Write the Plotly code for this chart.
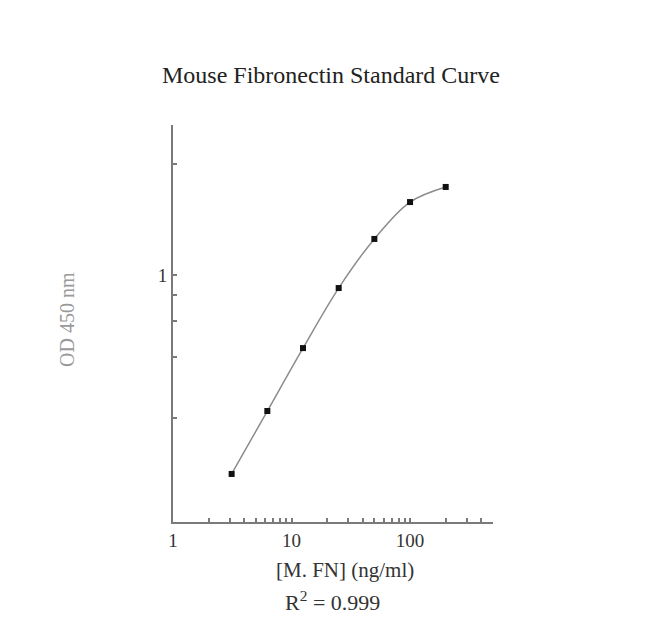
import plotly.graph_objects as go

# Data
conc = [3.125, 6.25, 12.5, 25, 50, 100, 200]          # [M. FN] (ng/ml)
od450 = [0.107, 0.217, 0.44, 0.864, 1.50, 2.27, 2.69]  # OD 450 nm

x_tickvals = [1, 2, 3, 4, 5, 6, 7, 8, 9, 10, 20, 30, 40, 50, 60, 70, 80, 90, 100, 200, 300, 400, 500]
x_ticktext = ["1", "", "", "", "", "", "", "", "", "10", "", "", "", "", "", "", "", "", "100", "", "", "", ""]
y_tickvals = [0.2, 0.4, 0.6, 0.8, 1, 3.5]
y_ticktext = ["", "", "", "", "1", ""]

title_text = "Mouse Fibronectin Standard Curve"
x_label = "[M. FN] (ng/ml)"
y_label = "OD 450 nm"
r2_text = "R<sup>2</sup> = 0.999"

FONT = "Liberation Serif, Times New Roman, serif"
AXIS_COLOR = "#7a7a7a"
OFF = 8  # page body offset

L, T, PW, PH = 173 - OFF, 125 - OFF, 320, 397

fig = go.Figure()
fig.add_trace(go.Scatter(
    x=conc, y=od450, mode="lines+markers",
    line=dict(color="#8c8c8c", width=1.5, shape="spline", smoothing=1.0),
    marker=dict(symbol="square", size=6, color="#111111"),
    showlegend=False,
))

fig.update_layout(
    width=650, height=643,
    margin=dict(l=L, r=650 - L - PW, t=T, b=643 - T - PH),
    paper_bgcolor="white", plot_bgcolor="white",
    font=dict(family=FONT, size=19, color="#333333"),
    title=dict(text=title_text, x=(331 - OFF) / 650, xanchor="center",
               y=1 - (75 - OFF) / 643, yanchor="middle",
               font=dict(family=FONT, size=24, color="#222222")),
)

fig.update_xaxes(
    type="log", range=[0, 2.70],
    showgrid=False, zeroline=False,
    showline=True, linecolor=AXIS_COLOR, linewidth=2,
    ticks="inside", ticklen=4, tickwidth=1.5, tickcolor=AXIS_COLOR,
    tickmode="array", tickvals=x_tickvals, ticktext=x_ticktext,
    tickfont=dict(family=FONT, size=19, color="#333333"),
)
fig.update_yaxes(
    type="log", range=[-1.205, 0.732],
    showgrid=False, zeroline=False,
    showline=True, linecolor=AXIS_COLOR, linewidth=2,
    ticks="inside", ticklen=4, tickwidth=1.5, tickcolor=AXIS_COLOR,
    tickmode="array", tickvals=y_tickvals, ticktext=y_ticktext,
    tickfont=dict(family=FONT, size=19, color="#333333"),
)

fig.add_annotation(text=x_label, xref="paper", yref="paper", x=(345 - 173) / 320, y=(522 - 570) / 397,
                   showarrow=False, yanchor="middle",
                   font=dict(family=FONT, size=21, color="#333333"))
fig.add_annotation(text=r2_text, xref="paper", yref="paper", x=(332 - 173) / 320, y=(522 - 601) / 397,
                   showarrow=False, yanchor="middle",
                   font=dict(family=FONT, size=22, color="#333333"))
fig.add_annotation(text=y_label, xref="paper", yref="paper", x=(67 - 173) / 320, y=(522 - 320) / 397,
                   showarrow=False, textangle=-90, xanchor="center", yanchor="middle",
                   font=dict(family=FONT, size=20, color="#999999"))

fig.write_html("out.html")
